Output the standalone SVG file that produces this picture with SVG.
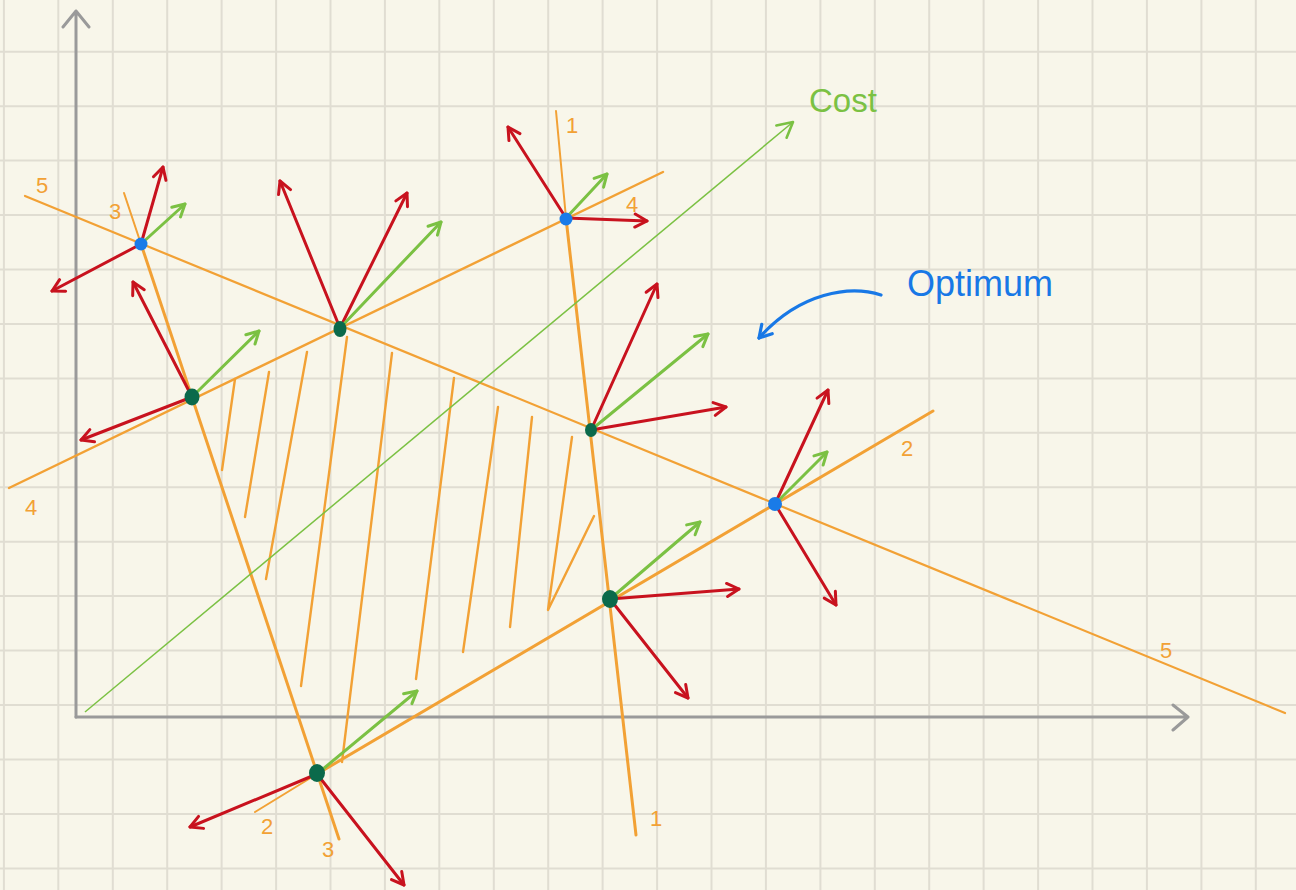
<svg xmlns="http://www.w3.org/2000/svg" width="1296" height="890" viewBox="0 0 1296 890">
<style>
.grid{stroke:#e0ddd2;stroke-width:2;fill:none}
.axis{stroke:#9a9a9a;stroke-width:3;fill:none;stroke-linecap:round;stroke-linejoin:round}
.con{stroke:#f2a135;fill:none;stroke-linecap:round}
.red{stroke:#c8121e;stroke-width:3;fill:none;stroke-linecap:round;marker-end:url(#mr)}
.grn{stroke:#7bc143;stroke-width:3;fill:none;stroke-linecap:round;marker-end:url(#mg)}
.dotb{fill:#1a7be8}
.dotg{fill:#0b6a4b}
.lbl{fill:#f2a135;font-family:"Liberation Sans",Arial,sans-serif;font-size:22px;text-anchor:middle}
</style>
<defs>
<marker id="mr" viewBox="-16 -10 18 20" refX="0" refY="0" markerWidth="18" markerHeight="20" markerUnits="userSpaceOnUse" orient="auto">
<path d="M-12,-6.5 L0,0 L-12,6.5" fill="none" stroke="#c8121e" stroke-width="3" stroke-linecap="round" stroke-linejoin="round"/>
</marker>
<marker id="mg" viewBox="-16 -10 18 20" refX="0" refY="0" markerWidth="18" markerHeight="20" markerUnits="userSpaceOnUse" orient="auto">
<path d="M-12,-6.5 L0,0 L-12,6.5" fill="none" stroke="#7bc143" stroke-width="3" stroke-linecap="round" stroke-linejoin="round"/>
</marker>
<marker id="mgc" viewBox="-18 -11 20 22" refX="0" refY="0" markerWidth="20" markerHeight="22" markerUnits="userSpaceOnUse" orient="auto">
<path d="M-15,-8 L0,0 L-15,8" fill="none" stroke="#7bc143" stroke-width="2.6" stroke-linecap="round" stroke-linejoin="round"/>
</marker>
<marker id="mb" viewBox="-16 -10 18 20" refX="0" refY="0" markerWidth="18" markerHeight="20" markerUnits="userSpaceOnUse" orient="auto">
<path d="M-12,-7 L0,0 L-12,7" fill="none" stroke="#1878e6" stroke-width="3.2" stroke-linecap="round" stroke-linejoin="round"/>
</marker>
</defs>
<rect width="1296" height="890" fill="#f8f6ea"/>
<g id="grid">
<path class="grid" d="M3.9,0V890M58.3,0V890M112.8,0V890M167.2,0V890M221.6,0V890M276.1,0V890M330.5,0V890M384.9,0V890M439.3,0V890M493.8,0V890M548.2,0V890M602.6,0V890M657.1,0V890M711.5,0V890M765.9,0V890M820.4,0V890M874.8,0V890M929.2,0V890M983.6,0V890M1038.1,0V890M1092.5,0V890M1146.9,0V890M1201.4,0V890M1255.8,0V890"/>
<path class="grid" d="M0,51.7H1296M0,106.2H1296M0,160.6H1296M0,215.1H1296M0,269.5H1296M0,323.9H1296M0,378.4H1296M0,432.8H1296M0,487.3H1296M0,541.7H1296M0,596.1H1296M0,650.6H1296M0,705H1296M0,759.5H1296M0,813.9H1296M0,868.4H1296"/>
</g>
<g id="axes">
<path class="axis" d="M76,717V11M63,27L76,11L89,27"/>
<path class="axis" d="M76,717H1188M1173,705L1188,717L1173,730"/>
</g>
<g id="hatch" class="con" stroke-width="2.4">
<path d="M235,379L222,470"/>
<path d="M269,372L245,517"/>
<path d="M307,352L266,579"/>
<path d="M347,337L301,686"/>
<path d="M392,353L342,762"/>
<path d="M454,378L416,679"/>
<path d="M498,407L463,652"/>
<path d="M532,417L510,627"/>
<path d="M572,437L548,610L594,516" stroke-linejoin="round"/>
</g>
<g id="connectors">
<path id="c5" class="con" stroke-width="2.2" d="M25,196L1285,713"/>
<path id="c3a" class="con" stroke-width="2" d="M124,193L141,244"/>
<path id="c3" class="con" stroke-width="3" d="M141,244L339,839"/>
<path id="c4" class="con" stroke-width="2.4" d="M9,488L663,172"/>
<path id="c1a" class="con" stroke-width="2" d="M556,111L566,218"/>
<path id="c1" class="con" stroke-width="3" d="M566,218L636,835"/>
<path id="c2a" class="con" stroke-width="2" d="M255,812L317,774"/>
<path id="c2" class="con" stroke-width="3" d="M317,774L933,411"/>
<path id="cost" d="M85,712L793,122" stroke="#7bc143" stroke-width="1.5" fill="none" marker-end="url(#mgc)"/>
<path id="optarrow" d="M881,295C850,285 800,292 759,338" stroke="#1878e6" stroke-width="3.2" fill="none" stroke-linecap="round" marker-end="url(#mb)"/>
</g>
<g id="labels">
<text class="lbl" x="42" y="193">5</text>
<text class="lbl" x="115" y="219" font-size="26">3</text>
<text class="lbl" x="632" y="212">4</text>
<text class="lbl" x="572" y="133">1</text>
<text class="lbl" x="31" y="515" font-size="25">4</text>
<text class="lbl" x="907" y="456">2</text>
<text class="lbl" x="1166" y="658">5</text>
<text class="lbl" x="267" y="834">2</text>
<text class="lbl" x="328" y="857" font-size="25">3</text>
<text class="lbl" x="656" y="826">1</text>
<text id="costlbl" x="809" y="112" fill="#7bc143" font-family="'Liberation Sans',Arial,sans-serif" font-size="33">Cost</text>
<text id="optlbl" x="907" y="296" fill="#1878e6" font-family="'Liberation Sans',Arial,sans-serif" font-size="36">Optimum</text>
</g>
<g id="v1">
<path class="red" d="M141,244L163,167"/>
<path class="red" d="M141,244L52,291"/>
<path class="grn" d="M141,244L185,204"/>
<circle class="dotb" cx="141" cy="244" r="6.5"/>
</g>
<g id="v2">
<path class="red" d="M340,328L280,181"/>
<path class="red" d="M340,328L407,193"/>
<path class="grn" d="M340,328L441,222"/>
<ellipse class="dotg" cx="340" cy="329" rx="6.5" ry="8"/>
</g>
<g id="v3">
<path class="red" d="M192,397L133,282"/>
<path class="red" d="M192,397L81,440"/>
<path class="grn" d="M192,397L259,331"/>
<ellipse class="dotg" cx="192" cy="397" rx="7.5" ry="8.5"/>
</g>
<g id="v4">
<path class="red" d="M566,218L508,127"/>
<path class="red" d="M566,218L647,221"/>
<path class="grn" d="M566,218L607,174"/>
<circle class="dotb" cx="566" cy="219" r="6.5"/>
</g>
<g id="v5">
<path class="red" d="M591,430L657,284"/>
<path class="red" d="M591,430L726,407"/>
<path class="grn" d="M591,430L708,334"/>
<ellipse class="dotg" cx="591" cy="430" rx="6" ry="7"/>
</g>
<g id="v6">
<path class="red" d="M775,504L828,390"/>
<path class="red" d="M775,504L836,605"/>
<path class="grn" d="M775,504L827,452"/>
<circle class="dotb" cx="775" cy="504" r="7"/>
</g>
<g id="v7">
<path class="red" d="M610,599L739,589"/>
<path class="red" d="M610,599L688,698"/>
<path class="grn" d="M610,599L700,522"/>
<ellipse class="dotg" cx="610" cy="599" rx="8" ry="9"/>
</g>
<g id="v8">
<path class="red" d="M317,774L190,827"/>
<path class="red" d="M317,774L404,885"/>
<path class="grn" d="M317,774L417,691"/>
<ellipse class="dotg" cx="317" cy="773" rx="8" ry="9"/>
</g>
</svg>
